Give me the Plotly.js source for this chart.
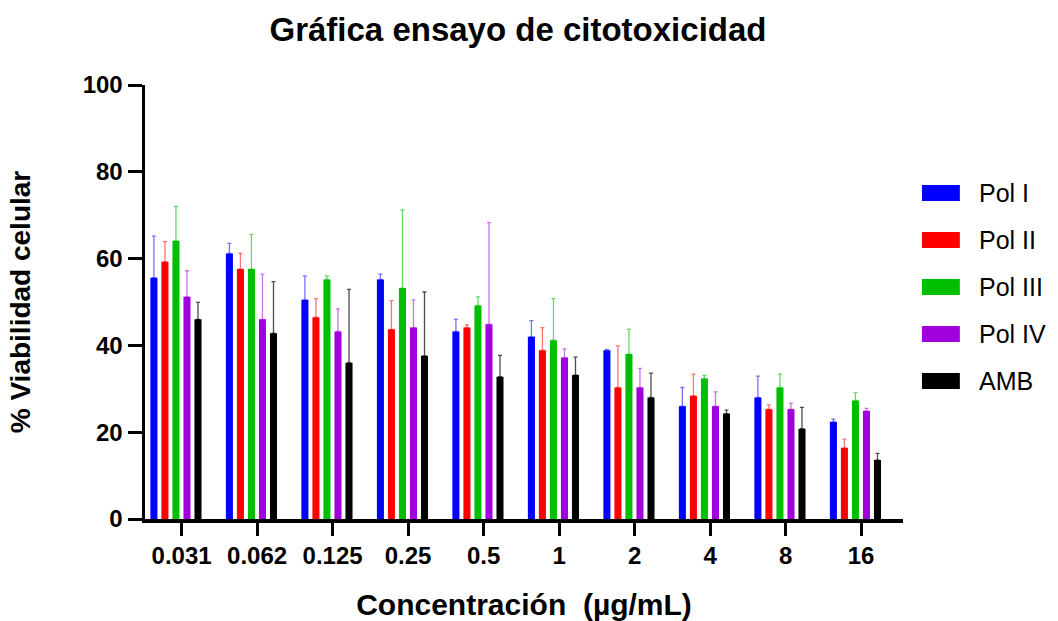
<!DOCTYPE html>
<html>
<head>
<meta charset="utf-8">
<script src="https://cdn.plot.ly/plotly-3.0.1.min.js"></script>
<style>html,body{margin:0;padding:0;background:#fff}#chart{width:1058px;height:621px}</style>
</head>
<body>
<div id="chart"></div>
<script>
const categories = ["0.031", "0.062", "0.125", "0.25", "0.5", "1", "2", "4", "8", "16"];
const seriesNames = ["Pol I", "Pol II", "Pol III", "Pol IV", "AMB"];
const seriesColors = ["#0000FF", "#FF0000", "#00BF00", "#A000DC", "#000000"];
const errColors = ["rgba(0,0,255,0.55)", "rgba(255,0,0,0.55)", "rgba(0,191,0,0.6)", "rgba(160,0,220,0.55)", "rgba(0,0,0,0.7)"];
const yTicks = [0, 20, 40, 60, 80, 100];

const polI   = [55.6, 61.2, 50.5, 55.2, 43.2, 42.0, 38.9, 26.0, 28.0, 22.4];
const polII  = [59.3, 57.6, 46.5, 43.7, 44.1, 38.9, 30.3, 28.4, 25.3, 16.4];
const polIII = [64.1, 57.6, 55.2, 53.2, 49.2, 41.2, 38.0, 32.4, 30.3, 27.3];
const polIV  = [51.2, 46.0, 43.2, 44.1, 44.9, 37.2, 30.3, 26.0, 25.3, 24.9];
const amb    = [46.0, 42.8, 36.0, 37.6, 32.8, 33.2, 28.0, 24.3, 20.8, 13.6];

const errPolI   = [9.6, 2.3, 5.5, 1.2, 2.8, 3.7, 0.2, 4.3, 4.9, 0.6];
const errPolII  = [4.6, 3.6, 4.3, 6.6, 0.6, 5.2, 9.6, 5.0, 1.0, 2.0];
const errPolIII = [7.9, 8.0, 0.8, 18.0, 2.0, 9.6, 5.7, 0.7, 3.1, 1.8];
const errPolIV  = [6.0, 10.4, 5.2, 6.4, 23.4, 2.0, 4.4, 3.3, 1.4, 0.6];
const errAmb    = [3.9, 11.9, 16.9, 14.7, 4.9, 4.1, 5.6, 0.8, 4.9, 1.5];

const allValues = [polI, polII, polIII, polIV, amb];
const allErrors = [errPolI, errPolII, errPolIII, errPolIV, errAmb];

const xIdx = categories.map((c, i) => i);
const FONT = "Liberation Sans, Arial, sans-serif";

const traces = seriesNames.map((name, s) => ({
  type: "bar",
  name: name,
  x: xIdx,
  y: allValues[s],
  marker: {color: seriesColors[s], line: {width: 0}},
  error_y: {type: "data", array: allErrors[s], symmetric: false, arrayminus: allErrors[s].map(() => 0),
            color: errColors[s], thickness: 1.3, width: 2},
  hoverinfo: "x+y",
  showlegend: false
}));

// Legend drawn as swatches + labels (larger swatches like the original)
const legX0 = 1.025, legX1 = 1.075, legTextX = 1.098, legTop = 0.751, legStep = 0.1083, legHalfH = 0.0185;
const shapes = seriesNames.map((n, s) => ({
  type: "rect", xref: "paper", yref: "paper",
  x0: legX0, x1: legX1,
  y0: legTop - s * legStep - legHalfH, y1: legTop - s * legStep + legHalfH,
  fillcolor: seriesColors[s], line: {width: 0}
}));
const annotations = seriesNames.map((n, s) => ({
  xref: "paper", yref: "paper", x: legTextX, y: legTop - s * legStep,
  xanchor: "left", yanchor: "middle", showarrow: false,
  text: n, font: {size: 25, family: FONT, color: "#000"}
}));

const layout = {
  width: 1058, height: 621,
  paper_bgcolor: "#fff", plot_bgcolor: "#fff",
  margin: {l: 145, r: 155, t: 85, b: 102},
  barmode: "group",
  bargap: 0.27,
  bargroupgap: 0.36,
  font: {family: FONT, color: "#000"},
  title: {text: "<b>Gráfica ensayo de citotoxicidad</b>", font: {size: 33, family: FONT, color: "#000"},
          x: 0.4896, xanchor: "center", y: 0.952, yanchor: "middle"},
  xaxis: {
    range: [-0.41, 9.63],
    tickmode: "array",
    tickvals: xIdx.map(i => i + 0.075),
    ticktext: categories.map(c => "<b>" + c + "</b>"),
    tickfont: {size: 24, family: FONT, color: "#000"},
    ticks: "outside", ticklen: 13, tickwidth: 3, tickcolor: "#000",
    showline: true, linecolor: "#000", linewidth: 3.5,
    showgrid: false, zeroline: false,
    title: {text: "<b>Concentración&nbsp; (µg/mL)</b>", font: {size: 30, family: FONT, color: "#000"}, standoff: 28}
  },
  yaxis: {
    range: [0, 100],
    tickmode: "array",
    tickvals: yTicks,
    ticktext: yTicks.map(t => "<b>" + t + "</b>"),
    tickfont: {size: 24, family: FONT, color: "#000"},
    ticks: "outside", ticklen: 14, tickwidth: 3, tickcolor: "#000",
    showline: true, linecolor: "#000", linewidth: 3.5,
    showgrid: false, zeroline: false,
    title: {text: "<b>% Viabilidad celular</b>", font: {size: 28, family: FONT, color: "#000"}, standoff: 45}
  },
  shapes: shapes,
  annotations: annotations,
  showlegend: false
};

Plotly.newPlot("chart", traces, layout, {displayModeBar: false, staticPlot: true});
</script>
</body>
</html>
